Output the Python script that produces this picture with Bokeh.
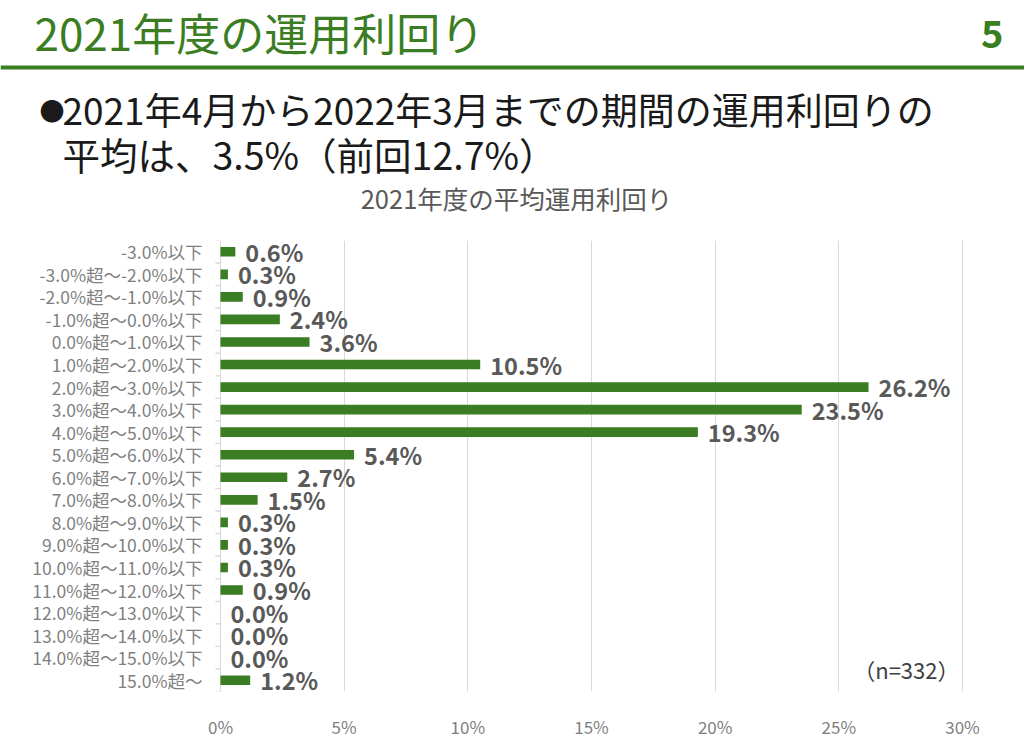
from bokeh.plotting import figure
from bokeh.layouts import column
from bokeh.models import ColumnDataSource, Label, FixedTicker, Range1d, FactorRange
from bokeh.core.properties import value
from bokeh.transform import dodge
from bokeh.embed import file_html
from bokeh.resources import INLINE

categories = ["-3.0%以下", "-3.0%超～-2.0%以下", "-2.0%超～-1.0%以下", "-1.0%超～0.0%以下",
              "0.0%超～1.0%以下", "1.0%超～2.0%以下", "2.0%超～3.0%以下", "3.0%超～4.0%以下",
              "4.0%超～5.0%以下", "5.0%超～6.0%以下", "6.0%超～7.0%以下", "7.0%超～8.0%以下",
              "8.0%超～9.0%以下", "9.0%超～10.0%以下", "10.0%超～11.0%以下", "11.0%超～12.0%以下",
              "12.0%超～13.0%以下", "13.0%超～14.0%以下", "14.0%超～15.0%以下", "15.0%超～"]
values = [0.6, 0.3, 0.9, 2.4, 3.6, 10.5, 26.2, 23.5, 19.3, 5.4, 2.7, 1.5, 0.3, 0.3, 0.3, 0.9, 0.0, 0.0, 0.0, 1.2]
x_ticks = [0, 5, 10, 15, 20, 25, 30]
x_max = 30

GREEN = "#3a7d22"
FONT = "Noto Sans CJK JP"
W, H = 1024, 741
TOP = 240                 # header height (px)
PLOT_L, PLOT_R = 220, 962  # pixel positions of 0% and 30%
BOTTOM = 41

# ---- header panel (page pixels as coordinates) ----
hdr = figure(width=W, height=TOP, output_backend="svg", toolbar_location=None,
             x_range=Range1d(0, W), y_range=Range1d(TOP, 0),
             min_border_left=0, min_border_right=0, min_border_top=0, min_border_bottom=0)
hdr.axis.visible = False
hdr.grid.visible = False
hdr.outline_line_color = None

def txt(text, x, y, size, color, bold=False, align="left"):
    hdr.text(x=[x], y=[y], text=[text], text_font=value(FONT), text_font_size=size,
             text_color=color, text_font_style="bold" if bold else "normal",
             text_align=align, text_baseline="middle")

txt("2021年度の運用利回り", 34, 31, "44px", GREEN)
txt("5", 1003, 33, "38px", GREEN, bold=True, align="right")
hdr.segment(x0=[0], y0=[67], x1=[W], y1=[67], line_color=GREEN, line_width=4)
txt("●", 39, 109, "25px", "#1a1a1a")
txt("2021年4月から2022年3月までの期間の運用利回りの", 62, 108, "37px", "#1a1a1a")
txt("平均は、3.5%（前回12.7%）", 62, 153, "37.5px", "#1a1a1a")
txt("2021年度の平均運用利回り", 516, 197, "25.5px", "#595959", align="center")

# ---- chart: frame spans the full width; x range chosen so 0%/30% land at PLOT_L/PLOT_R ----
pxper = (PLOT_R - PLOT_L) / x_max
p = figure(width=W, height=H - TOP, output_backend="svg", toolbar_location=None,
           y_range=FactorRange(*list(reversed(categories))),
           x_range=Range1d(-PLOT_L / pxper, x_max + (W - PLOT_R) / pxper),
           min_border_left=0, min_border_right=0, min_border_top=0, min_border_bottom=BOTTOM)
p.outline_line_color = None
p.yaxis.visible = False

src = ColumnDataSource(dict(cat=categories, val=values, zero=[0] * len(values),
                            tick=[-5 / pxper] * len(values),
                            lab=[f"{v:.1f}%" for v in values]))
p.hbar(y="cat", right="val", left=0, height=0.43, fill_color=GREEN, line_color=None, source=src)
p.text(x="val", y="cat", text="lab", source=src, x_offset=10, text_baseline="middle",
       text_font=value(FONT), text_font_style="bold", text_font_size="23.5px", text_color="#595959")
# category labels (left of the 0% line) and small boundary ticks
p.text(x="zero", y="cat", text="cat", source=src, x_offset=-18, text_align="right", text_baseline="middle",
       text_font=value(FONT), text_font_size="17.5px", text_color="#7f7f7f")
for off in (-0.5, 0.5):
    yy = dodge("cat", off, range=p.y_range)
    p.segment(x0="tick", y0=yy, x1="zero", y1=yy, source=src, line_color="#d9d9d9", line_width=1)

p.xgrid.ticker = FixedTicker(ticks=x_ticks)
p.xgrid.grid_line_color = "#d9d9d9"
p.ygrid.grid_line_color = None
p.xaxis.ticker = FixedTicker(ticks=x_ticks)
p.xaxis.major_label_overrides = {t: f"{t}%" for t in x_ticks}
p.xaxis.axis_line_color = None
p.xaxis.major_tick_line_color = None
p.xaxis.minor_tick_line_color = None
p.xaxis.major_label_standoff = 16
p.xaxis.major_label_text_font = FONT
p.xaxis.major_label_text_font_size = "17px"
p.xaxis.major_label_text_color = "#7f7f7f"

frame_bottom = H - TOP - BOTTOM
p.add_layout(Label(x=x_max, y=frame_bottom - (677 - TOP), x_units="data", y_units="screen",
                   text="（n=332）", x_offset=-3,
                   text_font=FONT, text_font_size="22px", text_color="#404040",
                   text_align="right", text_baseline="middle"))

layout = column(hdr, p, spacing=0)
open("out.html", "w").write(file_html(layout, INLINE))
